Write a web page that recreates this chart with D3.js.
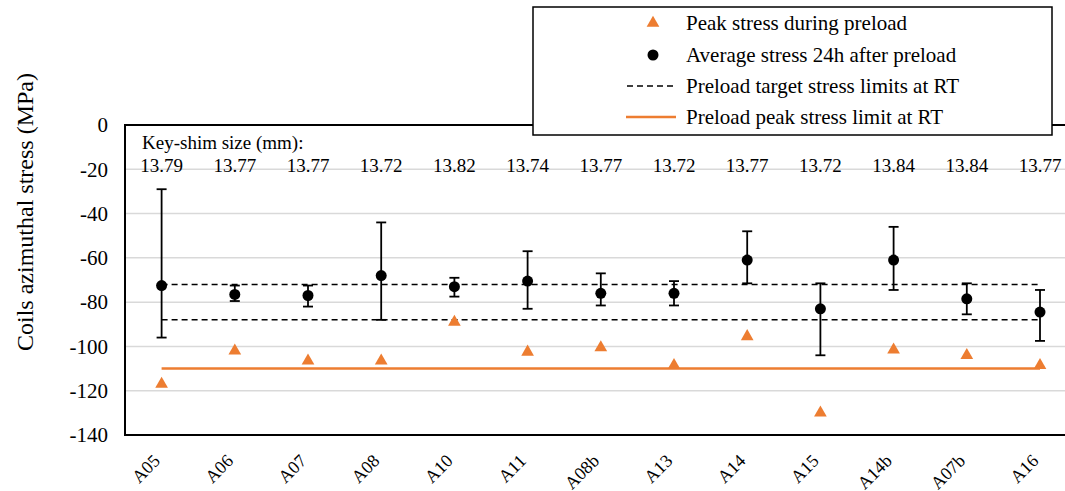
<!DOCTYPE html>
<html>
<head>
<meta charset="utf-8">
<script src="https://cdn.jsdelivr.net/npm/d3@7"></script>
</head>
<body style="margin:0">
<div id="chart"></div>
<script>
// magnets and their measured values (MPa)
const magnets = ["A05","A06","A07","A08","A10","A11","A08b","A13","A14","A15","A14b","A07b","A16"]
const keyShim = ["13.79","13.77","13.77","13.72","13.82","13.74","13.77","13.72","13.77","13.72","13.84","13.84","13.77"]
const peakStress = [-117, -102, -106.5, -106.5, -89, -102.5, -100.5, -108.5, -95.5, -130, -101.5, -104, -108.5]
const avgStress = [-72.5, -76.5, -77, -68, -73, -70.5, -76, -76, -61, -83, -61, -78.5, -84.5]
const errTop = [-29, -72.5, -72.5, -44, -69, -57, -67, -70.5, -48, -71.5, -46, -71.5, -74.5]
const errBottom = [-96, -79.5, -82, -88, -77.5, -83, -81.5, -81.5, -71.5, -104, -74.5, -85.5, -97.5]
const targetLimits = [-72, -88]
const peakLimit = -110
const yTicks = [0, -20, -40, -60, -80, -100, -120, -140]

const ORANGE = "#ED7D31"
const SERIF = "Liberation Serif"
const W = 1065, H = 491
const margin = {left: 125, top: 125, bottom: 435}
const bandW = 73.2

const svg = d3.select("#chart").append("svg")
  .attr("width", W).attr("height", H)
  .attr("font-family", SERIF)

const x = d3.scalePoint()
  .domain(magnets)
  .range([margin.left + bandW/2, margin.left + bandW*12.5])
const y = d3.scaleLinear()
  .domain([-140, 0])
  .range([margin.bottom, margin.top])
const plotRight = margin.left + bandW*13

// gridlines
svg.append("g").selectAll("line")
  .data(yTicks.filter(d => d != 0 && d != -140))
  .join("line")
  .attr("x1", margin.left).attr("x2", plotRight)
  .attr("y1", d => y(d)).attr("y2", d => y(d))
  .attr("stroke", "#d9d9d9").attr("stroke-width", 1.5)

// frame
svg.append("rect")
  .attr("x", margin.left).attr("y", margin.top)
  .attr("width", plotRight - margin.left).attr("height", margin.bottom - margin.top)
  .attr("fill", "none").attr("stroke", "#000").attr("stroke-width", 2)

// y axis labels
const yAxis = svg.append("g")
  .attr("transform", "translate(" + (margin.left - 17) + ",0)")
  .call(d3.axisLeft(y).tickValues(yTicks).tickSize(0).tickPadding(0).tickFormat(d => d))
yAxis.attr("font-family", SERIF).attr("font-size", 21)
yAxis.select(".domain").remove()
yAxis.selectAll("text")
  .attr("font-family", SERIF).attr("font-size", 21).attr("fill", "#000")

svg.append("text")
  .attr("transform", "translate(33,212) rotate(-90)")
  .attr("text-anchor", "middle")
  .attr("font-family", SERIF)
  .attr("font-size", 24)
  .text("Coils azimuthal stress (MPa)")

// x axis labels, rotated
const xAxis = svg.append("g")
  .attr("transform", "translate(0,462)")
  .call(d3.axisBottom(x).tickSize(0).tickPadding(0))
xAxis.attr("font-family", SERIF).attr("font-size", 18)
xAxis.select(".domain").remove()
xAxis.selectAll("text")
  .attr("font-family", SERIF).attr("font-size", 18).attr("fill", "#000")
  .attr("text-anchor", "end")
  .attr("y", 0)
  .attr("dy", 0)
  .attr("transform", "translate(-1,0) rotate(-45)")

// key-shim sizes
svg.append("text")
  .attr("x", 142).attr("y", 149)
  .attr("font-family", SERIF).attr("font-size", 19)
  .text("Key-shim size (mm):")
svg.append("g").selectAll("text")
  .data(keyShim)
  .join("text")
  .attr("x", (d, i) => x(magnets[i]))
  .attr("y", 172)
  .attr("text-anchor", "middle")
  .attr("font-family", SERIF).attr("font-size", 19)
  .text(d => d)

// target stress limits (dashed)
svg.append("g").selectAll("line")
  .data(targetLimits)
  .join("line")
  .attr("x1", x(magnets[0])).attr("x2", x(magnets[magnets.length-1]))
  .attr("y1", d => y(d)).attr("y2", d => y(d))
  .attr("stroke", "#000").attr("stroke-width", 1.5)
  .attr("stroke-dasharray", "6,4")

// peak stress limit
svg.append("line")
  .attr("x1", x(magnets[0])).attr("x2", x(magnets[magnets.length-1]))
  .attr("y1", y(peakLimit)).attr("y2", y(peakLimit))
  .attr("stroke", ORANGE).attr("stroke-width", 2.5)

// peak stress triangles
const tri = d3.symbol().type(d3.symbolTriangle).size(70)
svg.append("g").selectAll("path")
  .data(peakStress)
  .join("path")
  .attr("d", tri)
  .attr("transform", (d, i) => "translate(" + x(magnets[i]) + "," + y(d) + ")")
  .attr("fill", ORANGE)

// error bars
const eb = svg.append("g").attr("stroke", "#000").attr("stroke-width", 1.8)
magnets.forEach((m, i) => {
  let cx = x(m)
  eb.append("line").attr("x1", cx).attr("x2", cx).attr("y1", y(errTop[i])).attr("y2", y(errBottom[i]))
  eb.append("line").attr("x1", cx-5).attr("x2", cx+5).attr("y1", y(errTop[i])).attr("y2", y(errTop[i]))
  eb.append("line").attr("x1", cx-5).attr("x2", cx+5).attr("y1", y(errBottom[i])).attr("y2", y(errBottom[i]))
})

// average stress dots
svg.append("g").selectAll("circle")
  .data(avgStress)
  .join("circle")
  .attr("cx", (d, i) => x(magnets[i]))
  .attr("cy", d => y(d))
  .attr("r", 5.5)
  .attr("fill", "#000")

// legend
const legend = svg.append("g")
legend.append("rect")
  .attr("x", 533).attr("y", 7).attr("width", 519).attr("height", 128)
  .attr("fill", "#fff").attr("stroke", "#000").attr("stroke-width", 1.5)
const legendRows = [23, 55, 86, 117]
const legendText = ["Peak stress during preload", "Average stress 24h after preload",
  "Preload target stress limits at RT", "Preload peak stress limit at RT"]
legend.append("path").attr("d", tri)
  .attr("transform", "translate(653," + legendRows[0] + ")").attr("fill", ORANGE)
legend.append("circle").attr("cx", 653).attr("cy", legendRows[1]).attr("r", 5.5).attr("fill", "#000")
legend.append("line").attr("x1", 627).attr("x2", 676).attr("y1", legendRows[2]).attr("y2", legendRows[2])
  .attr("stroke", "#000").attr("stroke-width", 1.5).attr("stroke-dasharray", "6,4")
legend.append("line").attr("x1", 626).attr("x2", 676).attr("y1", legendRows[3]).attr("y2", legendRows[3])
  .attr("stroke", ORANGE).attr("stroke-width", 2.5)
legend.selectAll("text.lbl")
  .data(legendText)
  .join("text")
  .attr("class", "lbl")
  .attr("x", 686)
  .attr("y", (d, i) => legendRows[i])
  .attr("dy", "0.35em")
  .attr("font-family", SERIF).attr("font-size", 21)
  .text(d => d)
</script>
</body>
</html>
